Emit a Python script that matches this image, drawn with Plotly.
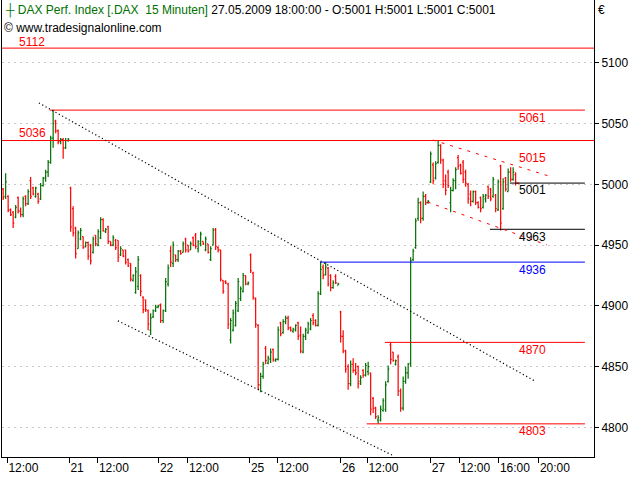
import plotly.graph_objects as go

# ---------------- data ----------------
# 15-minute bars, x = session-bar index (36 bars per trading day, 09:00-18:00)
day_names = ["20", "21", "22", "25", "26", "27"]
day_offsets = [-36, 0, 36, 72, 108, 144]
day_first_bar = [9, 0, 0, 0, 0, 0]

# rows: [open, high, low, close]
day20 = [
    [4996, 4997, 4987, 4989], [4990, 5009, 4988, 5002], [4990, 4991, 4977, 4979],
    [4979, 4980, 4974, 4975], [4977, 4978, 4964, 4968], [4973, 4983, 4972, 4981],
    [4989, 4990, 4976, 4978], [4978, 4981, 4973, 4975], [4975, 4990, 4973, 4988],
    [4990, 4991, 4982, 4984], [4984, 4996, 4983, 4994], [5003, 5006, 4988, 4990],
    [4997, 4998, 4991, 4992], [4990, 4998, 4989, 4997], [4992, 4993, 4984, 4986],
    [4988, 5001, 4987, 4999], [4999, 5006, 4998, 5005], [5005, 5012, 5002, 5010],
    [5010, 5020, 5006, 5018], [5018, 5040, 5017, 5038], [5038, 5061, 5030, 5050],
    [5052, 5053, 5042, 5044], [5044, 5045, 5033, 5035], [5035, 5038, 5033, 5037],
    [5037, 5038, 5021, 5030], [5030, 5038, 5029, 5036], [5036, 5038, 5035, 5037],
]
day21 = [
    [4997, 4998, 4961, 4965], [4980, 4982, 4957, 4960], [4964, 4965, 4939, 4943],
    [4947, 4962, 4947, 4960], [4955, 4964, 4954, 4962], [4957, 4957, 4947, 4948],
    [4949, 4953, 4948, 4952], [4952, 4953, 4938, 4941], [4950, 4951, 4934, 4937],
    [4944, 4957, 4943, 4955], [4958, 4958, 4949, 4951], [4950, 4963, 4949, 4961],
    [4956, 4973, 4955, 4971], [4971, 4972, 4961, 4962], [4961, 4964, 4960, 4963],
    [4965, 4966, 4951, 4953], [4953, 4953, 4949, 4950], [4950, 4958, 4949, 4956],
    [4954, 4955, 4946, 4948], [4954, 4954, 4936, 4940], [4942, 4949, 4941, 4947],
    [4946, 4946, 4940, 4941], [4946, 4946, 4934, 4936], [4938, 4939, 4932, 4933],
    [4935, 4935, 4920, 4922], [4921, 4926, 4920, 4925], [4911, 4932, 4910, 4928],
    [4916, 4941, 4913, 4938], [4925, 4926, 4908, 4912], [4907, 4908, 4894, 4897],
    [4905, 4905, 4895, 4897], [4896, 4897, 4880, 4885], [4880, 4894, 4876, 4890],
    [4891, 4897, 4890, 4896], [4896, 4901, 4895, 4899], [4899, 4901, 4898, 4900],
]
day22 = [
    [4901, 4902, 4886, 4888], [4888, 4897, 4886, 4896], [4896, 4923, 4895, 4920],
    [4918, 4934, 4916, 4931], [4945, 4949, 4932, 4936], [4935, 4953, 4932, 4950],
    [4942, 4942, 4936, 4938], [4938, 4946, 4936, 4945], [4945, 4946, 4942, 4943],
    [4944, 4953, 4944, 4951], [4955, 4956, 4944, 4946], [4950, 4950, 4944, 4945],
    [4946, 4953, 4946, 4951], [4956, 4957, 4949, 4950], [4958, 4960, 4947, 4949],
    [4947, 4954, 4944, 4953], [4951, 4961, 4949, 4959], [4953, 4953, 4950, 4951],
    [4946, 4957, 4945, 4955], [4951, 4951, 4943, 4944], [4938, 4949, 4937, 4947],
    [4950, 4964, 4950, 4962], [4963, 4964, 4946, 4949], [4948, 4949, 4944, 4946],
    [4946, 4946, 4920, 4922], [4921, 4921, 4910, 4912], [4920, 4921, 4918, 4919],
    [4918, 4919, 4881, 4885], [4872, 4890, 4869, 4888], [4880, 4897, 4879, 4894],
    [4884, 4904, 4883, 4902], [4896, 4923, 4895, 4920], [4906, 4916, 4904, 4914],
    [4912, 4927, 4911, 4925], [4925, 4925, 4917, 4918], [4918, 4920, 4917, 4919],
]
day25 = [
    [4942, 4943, 4927, 4929], [4927, 4928, 4905, 4907], [4906, 4907, 4882, 4885],
    [4884, 4885, 4831, 4835], [4835, 4845, 4829, 4842], [4842, 4854, 4840, 4852],
    [4865, 4867, 4852, 4855], [4853, 4859, 4852, 4857], [4856, 4865, 4853, 4862],
    [4864, 4865, 4854, 4856], [4855, 4857, 4854, 4856], [4856, 4883, 4855, 4880],
    [4886, 4887, 4875, 4877], [4878, 4889, 4877, 4887], [4887, 4892, 4885, 4890],
    [4890, 4892, 4880, 4882], [4882, 4883, 4879, 4880], [4879, 4882, 4878, 4881],
    [4880, 4885, 4879, 4884], [4886, 4887, 4872, 4875], [4876, 4883, 4861, 4863],
    [4862, 4877, 4861, 4875], [4875, 4882, 4872, 4880], [4878, 4887, 4877, 4885],
    [4881, 4890, 4880, 4888], [4892, 4894, 4884, 4886], [4888, 4889, 4883, 4884],
    [4884, 4912, 4883, 4910], [4910, 4936, 4909, 4930], [4932, 4934, 4922, 4925],
    [4926, 4936, 4925, 4932], [4931, 4932, 4916, 4918], [4925, 4926, 4912, 4915],
    [4915, 4921, 4914, 4919], [4924, 4926, 4918, 4919], [4917, 4919, 4917, 4918],
]
day26 = [
    [4895, 4896, 4870, 4875], [4875, 4880, 4861, 4863], [4863, 4864, 4845, 4848],
    [4850, 4852, 4831, 4836], [4836, 4855, 4834, 4852], [4852, 4857, 4845, 4847],
    [4847, 4853, 4843, 4845], [4850, 4851, 4832, 4836], [4838, 4843, 4835, 4841],
    [4847, 4848, 4841, 4843], [4843, 4853, 4842, 4851], [4846, 4854, 4843, 4850],
    [4845, 4845, 4810, 4815], [4824, 4825, 4812, 4816], [4816, 4817, 4807, 4809],
    [4806, 4810, 4803, 4808], [4806, 4818, 4805, 4815], [4814, 4824, 4813, 4822],
    [4815, 4838, 4813, 4835], [4838, 4851, 4837, 4848], [4868, 4870, 4852, 4856],
    [4862, 4862, 4854, 4855], [4852, 4856, 4851, 4855], [4858, 4860, 4826, 4830],
    [4830, 4832, 4813, 4816], [4816, 4842, 4814, 4838], [4838, 4850, 4836, 4845],
    [4845, 4853, 4840, 4852], [4853, 4940, 4850, 4937], [4938, 4947, 4937, 4945],
    [4948, 4972, 4947, 4970], [4972, 4989, 4970, 4985], [4985, 4986, 4968, 4972],
    [4972, 4994, 4970, 4990], [4990, 4992, 4983, 4985], [4985, 4987, 4984, 4986],
]
day27 = [
    [5002, 5027, 5001, 5025], [5016, 5018, 5000, 5003], [5005, 5019, 5004, 5017],
    [5018, 5036, 5017, 5032], [5032, 5033, 5017, 5020], [5020, 5021, 4997, 5000],
    [5003, 5008, 4991, 4995], [5010, 5012, 4997, 4999], [4985, 4998, 4977, 4995],
    [4995, 5005, 4994, 5003], [5003, 5014, 4996, 5012], [5022, 5024, 5012, 5015],
    [5016, 5017, 5008, 5009], [5018, 5020, 5001, 5004], [5010, 5012, 4998, 5001],
    [5000, 5001, 4984, 4988], [4992, 4995, 4982, 4986], [4986, 4995, 4985, 4994],
    [4994, 4995, 4983, 4985], [4985, 4986, 4980, 4981], [4989, 4990, 4977, 4980],
    [4981, 4992, 4980, 4990], [4988, 4992, 4985, 4991], [4998, 4999, 4988, 4990],
    [4996, 4997, 4986, 4988], [4990, 5006, 4989, 5004], [4991, 4992, 4977, 4980],
    [4979, 5004, 4978, 5002], [5015, 5016, 4962, 4968], [4980, 5005, 4979, 5002],
    [5005, 5006, 4994, 4996], [4994, 5013, 4994, 5010], [5010, 5014, 5002, 5004],
    [5004, 5014, 5003, 5010], [5008, 5010, 4999, 5001], [5001, 5001, 5001, 5001],
]
days = [day20, day21, day22, day25, day26, day27]

# horizontal support / resistance levels
level_values = [5112, 5061, 5036, 5001, 4963, 4936, 4870, 4803]
level_from = [-27.0, -7.8, -27.0, 176.2, 168.2, 100.2, 126.2, 118.9]
level_to = [209.9, 206.2, 209.9, 206.2, 206.2, 206.2, 206.2, 206.2]
level_colors = ["#ff0000", "#ff0000", "#ff0000", "#000000", "#000000",
                "#0000ff", "#ff0000", "#ff0000"]

# value labels
label_values = [5112, 5061, 5036, 5015, 5001, 4963, 4936, 4870, 4803]
label_x = [-20.8, 179.0, -20.8, 179.0, 179.0, 179.0, 179.0, 179.0, 179.0]
label_shift = [6, -8, 8, 8, -7, -8, -8, -8, -7]
label_colors = ["#ff0000", "#ff0000", "#ff0000", "#ff0000", "#000000",
                "#000000", "#0000ff", "#ff0000", "#ff0000"]

# trend lines: (x0, y0, x1, y1)
trend_upper = [-12.2, 5066.9, 186.2, 4838.2]
trend_lower = [19.4, 4887.7, 129.4, 4777.0]
channel_upper = [145.4, 5036.4, 193.0, 5006.0]
channel_lower = [143.3, 4985.4, 191.0, 4950.1]

# axis ticks
x_tickvals = [-24.8, 0, 11.4, 35.8, 47.4, 72.2, 83.3, 108.6, 119.2, 144.5, 155.9, 171.8, 187.8]
x_ticktext = ["12:00", "21", "12:00", "22", "12:00", "25", "12:00", "26", "12:00",
              "27", "12:00", "16:00", "20:00"]
y_tickvals = [4800, 4850, 4900, 4950, 5000, 5050, 5100]

# ---------------- build ----------------
xs, o, h, l, c = [], [], [], [], []
for off, first, rows in zip(day_offsets, day_first_bar, days):
    for i, (O, H, L, C) in enumerate(rows):
        xs.append(off + first + i + 0.5)
        o.append(O); h.append(H); l.append(L); c.append(C)

FONT = "Liberation Sans, Arial, sans-serif"
GREEN = "#007000"

fig = go.Figure()
fig.add_trace(go.Ohlc(
    x=xs, open=o, high=h, low=l, close=c, tickwidth=0.45,
    increasing=dict(line=dict(color=GREEN, width=1.2)),
    decreasing=dict(line=dict(color="#ff0000", width=1.2)),
    hoverinfo="skip", showlegend=False))

for v, x0, x1, col in zip(level_values, level_from, level_to, level_colors):
    fig.add_trace(go.Scatter(x=[x0, x1], y=[v, v], mode="lines",
                             line=dict(color=col, width=1), hoverinfo="skip",
                             showlegend=False))

for seg, col, dash, w in [(trend_upper, "#000000", "1.2px,2.6px", 1.2),
                          (trend_lower, "#000000", "1.2px,2.6px", 1.2),
                          (channel_upper, "#ff0000", "3px,6px", 1),
                          (channel_lower, "#ff0000", "3px,6px", 1)]:
    fig.add_trace(go.Scatter(x=[seg[0], seg[2]], y=[seg[1], seg[3]], mode="lines",
                             line=dict(color=col, width=w, dash=dash),
                             hoverinfo="skip", showlegend=False))

for v, lx, sh, col in zip(label_values, label_x, label_shift, label_colors):
    fig.add_annotation(x=lx, y=v, text=str(v), showarrow=False, xanchor="left",
                       yanchor="middle", yshift=sh,
                       font=dict(family=FONT, size=12, color=col))

fig.add_annotation(
    xref="paper", yref="paper", x=0, y=1, xanchor="left", yanchor="top",
    xshift=1, yshift=-1, showarrow=False,
    text=("<span style='color:%s'>\u253c DAX Perf. Index [.DAX\u00a0 15 Minuten]</span>"
          " 27.05.2009 18:00:00 - O:5001 H:5001 L:5001 C:5001") % GREEN,
    font=dict(family=FONT, size=12, color="#000000"))
fig.add_annotation(
    xref="paper", yref="paper", x=0, y=1, xanchor="left", yanchor="top",
    xshift=0, yshift=-19, showarrow=False, text="\u00a9 www.tradesignalonline.com",
    font=dict(family=FONT, size=12, color="#000000"))
fig.add_annotation(
    xref="paper", yref="paper", x=1, y=1, xanchor="left", yanchor="top",
    xshift=2, yshift=-1, showarrow=False, text="\u20ac",
    font=dict(family=FONT, size=12, color="#000000"))

fig.update_layout(
    width=640, height=480,
    margin=dict(l=2, r=46, t=0, b=23, autoexpand=False),
    paper_bgcolor="white", plot_bgcolor="white",
    hovermode=False,
    font=dict(family=FONT, size=12, color="#000000"),
    xaxis=dict(range=[-26.96, 209.84], tickvals=x_tickvals, ticktext=x_ticktext,
               ticks="outside", ticklen=5, tickcolor="#000000", tickangle=0,
               ticklabelposition="outside right", automargin=False,
               showline=True, linecolor="#000000", linewidth=1,
               showgrid=False, zeroline=False, rangeslider=dict(visible=False),
               tickfont=dict(family=FONT, size=12, color="#000000")),
    yaxis=dict(range=[4775.74, 5151.56], side="right", tickvals=y_tickvals,
               ticks="outside", ticklen=4, tickcolor="#000000", automargin=False,
               showline=True, mirror=True, linecolor="#000000", linewidth=1,
               showgrid=True, gridcolor="#c8c8c8", griddash="2px,4px",
               zeroline=False,
               tickfont=dict(family=FONT, size=12, color="#000000")),
)

fig.write_html(
    "out.html",
    config={"displayModeBar": False, "staticPlot": True},
    post_script="document.body.style.margin='0';document.body.style.overflow='hidden';",
)
